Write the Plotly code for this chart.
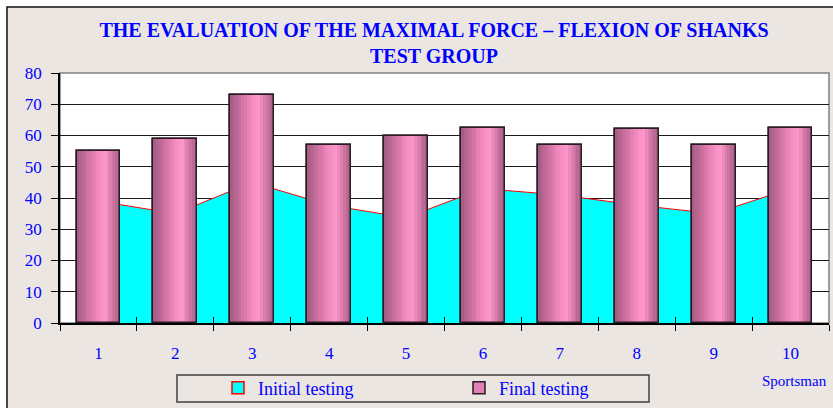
"""
Maximal force - flexion of shanks, test group.
"""

import plotly.graph_objects as go

# data
sportsmen = ["1", "2", "3", "4", "5", "6", "7", "8", "9", "10"]
initial_testing = [39, 35, 45, 37.7, 33.7, 43, 41, 37.7, 35, 43]
final_testing = [55, 59, 73, 57, 60, 62.5, 57, 62, 57, 62.5]
y_ticks = [0, 10, 20, 30, 40, 50, 60, 70, 80]

BLUE = "#0000FF"
SERIF = "Liberation Serif, Times New Roman, serif"
BAR_W = 0.57

# cylinder shading of the bars: (position across bar 0..1, colour)
SHADE = [
    (0.00, (160, 92, 130)),
    (0.25, (205, 112, 160)),
    (0.50, (245, 140, 192)),
    (0.65, (255, 152, 202)),
    (0.80, (215, 122, 170)),
    (1.00, (160, 92, 128)),
]


def shade_at(t):
    for (t0, c0), (t1, c1) in zip(SHADE, SHADE[1:]):
        if t0 <= t <= t1:
            k = (t - t0) / (t1 - t0)
            return "rgb(%d,%d,%d)" % tuple(round(a + (b - a) * k) for a, b in zip(c0, c1))
    return "rgb(%d,%d,%d)" % SHADE[-1][1]


def px_x(p):
    # pixel column -> paper x
    return (p - 60) / 769


def px_y(p):
    # pixel row -> paper y
    return (323 - p) / 250


fig = go.Figure()

# initial testing as area (main axes, sits under the bars)
fig.add_trace(go.Scatter(
    x=sportsmen, y=initial_testing, name="Initial testing",
    mode="lines", fill="tozeroy", fillcolor="#00FFFF",
    line=dict(color="#FF0000", width=1), showlegend=False,
))
# legend swatch for the area
fig.add_trace(go.Bar(
    x=[None], y=[None], name="Initial testing", xaxis="x2", yaxis="y2",
    marker=dict(color="#00FFFF", line=dict(color="#FF0000", width=1.5)),
))

# final testing on overlaid axes: base bar (legend swatch), shaded strips, outline
fig.add_trace(go.Bar(
    x=sportsmen, y=final_testing, name="Final testing", xaxis="x2", yaxis="y2",
    width=BAR_W, marker=dict(color="#E080B4", line=dict(color="#2A1A22", width=1.5)),
))
n = 16
for i in range(n):
    w = BAR_W / n
    fig.add_trace(go.Bar(
        x=sportsmen, y=final_testing, width=w, offset=-BAR_W / 2 + i * w,
        xaxis="x2", yaxis="y2",
        marker=dict(color=shade_at((i + 0.5) / n), line=dict(width=0)),
        showlegend=False, hoverinfo="skip",
    ))
fig.add_trace(go.Bar(
    x=sportsmen, y=final_testing, width=BAR_W, showlegend=False, hoverinfo="skip",
    xaxis="x2", yaxis="y2",
    marker=dict(color="rgba(0,0,0,0)", line=dict(color="#2A1A22", width=1.5)),
))

fig.update_layout(
    width=833, height=408,
    margin=dict(l=60, r=4, t=73, b=85, autoexpand=False),
    paper_bgcolor="white", plot_bgcolor="rgba(0,0,0,0)",
    barmode="overlay", bargap=0,
    font=dict(family=SERIF, color=BLUE, size=17),
    title=dict(
        text="<b>THE EVALUATION OF THE MAXIMAL FORCE – FLEXION OF SHANKS<br>TEST GROUP</b>",
        x=434 / 833, xanchor="center", y=1 - 37 / 408, yanchor="top",
        font=dict(family=SERIF, color=BLUE, size=20),
    ),
    legend=dict(
        orientation="h", x=px_x(218), xanchor="left",
        y=px_y(388), yanchor="middle",
        borderwidth=0, bgcolor="rgba(0,0,0,0)",
        entrywidth=196, font=dict(family=SERIF, color=BLUE, size=18),
        traceorder="normal",
    ),
    showlegend=True,
    shapes=[
        # chart background with outer border
        dict(type="rect", xref="paper", yref="paper", layer="below",
             x0=px_x(7), x1=1.2, y0=-0.5, y1=px_y(7),
             fillcolor="#EBE6E2", line=dict(color="#111111", width=1.5)),
        # white plot area
        dict(type="rect", xref="paper", yref="paper", layer="below",
             x0=0, x1=1, y0=0, y1=1,
             fillcolor="white", line=dict(color="#808080", width=1.5)),
        # legend frame
        dict(type="rect", xref="paper", yref="paper", layer="below",
             x0=px_x(177), x1=px_x(649), y0=px_y(402), y1=px_y(375),
             fillcolor="rgba(0,0,0,0)", line=dict(color="#404040", width=1.5)),
    ],
    annotations=[
        dict(text="Sportsman", xref="paper", yref="paper", x=1.0, y=px_y(381),
             xanchor="right", yanchor="middle", showarrow=False,
             font=dict(family=SERIF, color=BLUE, size=15)),
    ],
    xaxis=dict(
        type="category", tickson="boundaries", ticks="outside", ticklen=6,
        tickcolor="black", showline=True, linecolor="black", linewidth=1.5,
        showgrid=False, ticklabelstandoff=14, tickfont=dict(size=17, color=BLUE),
        range=[-0.5, 9.5],
    ),
    xaxis2=dict(
        type="category", overlaying="x", matches="x", tickson="boundaries",
        ticks="inside", ticklen=6, tickcolor="black", showticklabels=False,
        showline=False, showgrid=False,
    ),
    yaxis=dict(
        range=[0, 80], tickvals=y_ticks, ticks="outside", ticklen=7,
        tickcolor="black", showline=True, linecolor="black", linewidth=1.5,
        showgrid=True, gridcolor="#1A1A1A", gridwidth=1, zeroline=False,
        ticklabelstandoff=6, tickfont=dict(size=17, color=BLUE),
    ),
    yaxis2=dict(
        overlaying="y", matches="y", showticklabels=False, ticks="",
        showline=False, showgrid=False, zeroline=False,
    ),
)

fig.write_html(
    "out.html",
    config={"displayModeBar": False},
    post_script="document.body.style.margin='0';",
)
